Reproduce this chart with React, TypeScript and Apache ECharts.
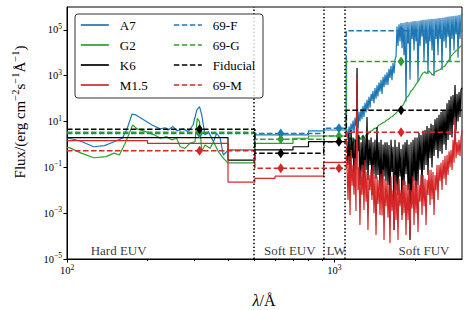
import React, { useEffect, useRef } from "react";
import * as echarts from "echarts";

// ---------- data (wavelengths in Å, fluxes as log10 of erg cm^-2 s^-1 Å^-1) ----------
const binEdges = [100, 200, 300, 400, 504, 600, 700, 800, 912, 1108];
const a7Bins = [null, null, null, -0.24, 0.42, 0.42, 0.42, 0.59, 0.63];
const g2Bins = [null, null, null, -0.8, 0.05, 0.05, 0.27, 0.37, 0.37];
const k6Bins = [0.3, 0.3, 0.3, -0.68, -0.24, -0.24, -0.1, 0.12, 0.12];
const m15Bins = [0.17, 0.05, 0.05, -1.64, -1.48, -1.38, -1.38, -1.38, -0.78];

const a7EuvWave = [100, 102, 112, 126, 138, 150, 161, 168, 175, 181, 194, 208, 223, 233, 239, 249, 258, 272, 284, 296, 306, 313, 319, 328, 338, 353, 363, 374, 384, 396];
const a7EuvLogFlux = [0.27, 0.27, 0.15, -0.1, -0.05, 0.12, 0.27, 0.71, 1.32, 1.29, 1.07, 0.85, 0.68, 0.73, 0.63, 0.78, 0.59, 0.68, 0.56, 0.85, 1.51, 1.65, 1.29, 0.42, 0.56, 0.12, 0.49, 0.27, -0.46, -0.31];
const g2EuvWave = [100, 102, 113, 126, 140, 150, 157, 166, 176, 183, 197, 212, 223, 236, 246, 257, 265, 276, 288, 301, 307, 313, 319, 328, 343, 353, 368, 384, 396];
const g2EuvLogFlux = [-0.14, -0.14, -0.38, -0.58, -0.53, -0.38, -0.46, 0.12, 0.85, 0.68, 0.56, 0.42, 0.27, 0.34, 0.2, 0.27, -0.1, -0.17, 0.05, 0.12, 1.14, 1.0, -0.31, -0.02, -0.17, 0.12, -0.31, -0.6, -0.75];

const fuvWave = [
  1114, 1124, 1134, 1144, 1154, 1164, 1174, 1184, 1194, 1204,
  1215, 1225, 1236, 1246, 1258, 1268, 1279, 1290, 1301, 1313,
  1324, 1335, 1347, 1359, 1371, 1382, 1394, 1406, 1418, 1431,
  1443, 1455, 1468, 1481, 1494, 1507, 1520, 1533, 1546, 1559,
  1573, 1586, 1600, 1614, 1628, 1642, 1656, 1671, 1685, 1700,
  1714, 1729, 1744, 1759, 1775, 1790, 1805, 1821, 1837, 1852,
  1868, 1885, 1901, 1917, 1934, 1951, 1968, 1985, 2001, 2019,
  2037, 2054, 2072, 2090, 2108, 2126, 2145, 2163, 2182, 2201,
  2220, 2239, 2258, 2278, 2298, 2317, 2337, 2358, 2378, 2399,
  2419, 2440, 2461, 2483, 2504, 2526, 2547, 2570, 2592, 2614,
  2637, 2660, 2683, 2706, 2729, 2753, 2777, 2801, 2825, 2849,
  2874, 2899, 2924, 2949, 2975, 3000,
];
const a7FuvLogFlux = [
  0.65, 0.2, 0.78, 0.45, 0.91, 0.6, 1.04, 0.5, 1.17, 0.8,
  1.3, 0.7, 1.43, 1.0, 1.56, 1.1, 1.69, 1.2, 1.82, 1.4,
  1.95, 1.5, 2.08, 1.6, 2.2, 1.9, 2.33, 1.8, 2.46, 2.0,
  2.58, 2.1, 2.7, 2.3, 2.82, 2.2, 2.94, 2.5, 3.05, 2.6,
  3.15, 2.6, 3.3, 2.9, 3.42, 2.8, 3.55, 3.1, 3.7, 3.85,
  5.15, 4.3, 5.25, 4.5, 5.3, 4.2, 5.3, 3.9, 5.32, 1.86,
  5.35, 4.4, 5.33, 2.82, 5.36, 4.6, 5.38, 4.1, 5.39, 4.5,
  5.38, 2.73, 5.4, 4.3, 5.42, 4.7, 5.44, 3.6, 5.44, 4.4,
  5.45, 3.08, 5.46, 4.5, 5.48, 4.1, 5.48, 2.99, 5.49, 4.6,
  5.5, 3.9, 5.52, 4.6, 5.52, 3.25, 5.53, 4.5, 5.55, 4.2,
  5.57, 4.7, 5.58, 3.6, 5.6, 4.6, 5.61, 4.1, 5.62, 4.8,
  5.63, 3.78, 5.65, 4.6, 5.66, 5.66,
];
const g2FuvLogFlux = [
  0.33, 0.28, 0.15, 0.3, 0.24, 0.1, -0.07, 0.25, 0.2, 0.12,
  -0.24, 0.15, 0.28, 0.3, 0.2, 0.35, 0.37, 0.3, 0.33, 0.42,
  0.46, 0.44, 0.5, 0.56, 0.59, 0.6, 0.63, 0.69, 0.72, 0.68,
  0.72, 0.8, 0.85, 0.86, 0.89, 0.93, 0.94, 0.97, 0.98, 1.04,
  1.07, 1.08, 1.11, 1.16, 1.2, 1.21, 1.24, 1.3, 1.33, 1.37,
  1.42, 1.47, 1.51, 1.54, 1.59, 1.66, 1.72, 1.8, 1.9, 1.98,
  2.07, 2.1, 2.16, 2.26, 2.34, 2.37, 2.42, 2.5, 2.55, 2.63,
  2.69, 2.76, 2.82, 2.9, 2.99, 3.06, 3.12, 3.14, 3.17, 3.1,
  3.12, 3.18, 3.21, 3.15, 3.12, 3.05, 3.03, 3.1, 3.17, 3.19,
  3.21, 3.23, 3.25, 3.27, 3.3, 3.35, 3.38, 3.4, 3.42, 3.5,
  3.56, 3.62, 3.69, 3.78, 3.86, 3.9, 3.95, 4.0, 4.04, 4.09,
  4.13, 4.17, 4.21, 4.26, 4.3, 4.35,
];
const k6FuvLogFlux = [
  0.15, -0.9, 0.5, -1.46, 0.63, -0.6, 0.3, -1.8, 0.2, -1.1,
  3.34, -0.3, 0.4, -1.77, 0.1, -1.2, 0.41, -2.2, 0.3, -1.11,
  1.2, -1.55, 0.2, -0.9, 0.3, -2.21, 0.1, -1.3, 0.2, -1.5,
  0.76, -1.33, 0.1, -2.0, 0.2, -2.42, 0.0, -1.4, 0.1, -1.6,
  0.1, -1.77, -0.02, -2.86, 0.2, -1.2, -0.1, -3.73, 0.2, -2.0,
  -0.1, -2.21, 0.1, -1.4, -0.2, -3.08, 0.0, -1.8, 0.1, -1.3,
  0.2, -1.99, 0.0, -4.17, 0.1, -2.6, 0.2, -1.6, 0.3, -2.42,
  0.3, -1.77, 0.5, -1.1, 0.41, -2.0, 0.6, -1.11, 0.63, -0.9,
  0.8, -1.33, 0.72, -0.6, 0.9, -1.0, 0.85, -0.5, 1.1, -0.24,
  1.16, -0.6, 1.3, -0.3, 1.42, -0.4, 1.5, 0.0, 1.51, -0.24,
  1.8, 0.2, 1.94, 0.41, 2.1, 0.3, 2.16, 0.85, 2.6, 0.6,
  2.2, 1.0, 2.29, 1.2, 2.4, 2.47,
];
const m15FuvLogFlux = [
  -0.76, -2.42, -0.5, -3.08, -0.24, -1.8, -0.9, -2.2, -0.6, -2.9,
  2.95, -1.99, -1.0, -3.52, -1.11, -2.2, -0.9, -2.86, -0.68, -2.5,
  -1.2, -3.73, -1.33, -2.0, -1.1, -2.42, -0.9, -3.0, -1.3, -3.95,
  -1.4, -2.6, -1.55, -3.08, -1.3, -3.1, -1.11, -4.17, -1.5, -2.7,
  -1.6, -3.2, -1.77, -4.3, -1.4, -2.9, -1.99, -3.73, -1.33, -3.3,
  -1.7, -4.17, -1.5, -2.7, -1.99, -3.3, -1.55, -3.0, -1.6, -3.95,
  -1.77, -3.3, -1.7, -4.08, -1.99, -2.8, -1.4, -3.52, -1.55, -3.0,
  -1.6, -3.82, -1.77, -2.5, -1.3, -3.08, -1.33, -2.7, -1.5, -3.52,
  -1.55, -2.2, -1.1, -2.64, -1.11, -2.4, -1.2, -3.08, -1.33, -2.0,
  -0.9, -2.42, -0.9, -1.6, -0.8, -1.99, -0.68, -1.5, -0.5, -1.77,
  -0.46, -1.33, -0.3, -1.0, -0.24, -1.11, 0.2, -0.8, 1.2, -0.6,
  0.1, -0.46, 0.2, -0.5, 0.3, 0.63,
];

const bandEdges = [100, 504, 912, 1108, 3000];
const bandCenters = [313, 630, 1040, 1775];
const f69Bands = [0.48, 0.48, 0.71, 4.96];
const g69Bands = [0.53, 0.23, 0.37, 3.62];
const fiducialBands = [0.66, -0.38, 0.12, 1.49];
const m69Bands = [-0.28, -1.04, -1.04, 0.53];

const boundaryWave = [504, 912, 1108];
const regionNames = ["Hard EUV", "Soft EUV", "LW", "Soft FUV"];
const regionLabelWave = [156, 681, 1014, 2163];
const regionLabelLogFlux = -4.62;

const xMajorTicks = [100, 1000];
const xMinorTicks = [200, 300, 400, 500, 600, 700, 800, 900, 2000];
const yTickExponents = [-5, -3, -1, 1, 3, 5];
const xRange = [100, 3000];
const yExpRange = [-5, 6];

// ---------- helpers ----------
const L = (v: number) => Math.log10(v);
const FONT = '"Liberation Serif", "DejaVu Serif", serif';
const C = { blue: "#1f77b4", green: "#2ca02c", black: "#000000", red: "#d62728" };

function solid(wave: number[] | null, flux: number[] | null, bins: (number | null)[], fuv: number[]) {
  const pts: number[][] = [];
  if (wave && flux) wave.forEach((w, i) => pts.push([L(w), flux[i]]));
  bins.forEach((v, i) => {
    if (v == null) return;
    pts.push([L(binEdges[i]), v]);
    pts.push([L(binEdges[i + 1]), v]);
  });
  fuvWave.forEach((w, i) => pts.push([L(w), fuv[i]]));
  return pts;
}
function bands(vals: number[]) {
  const pts: number[][] = [];
  vals.forEach((v, i) => {
    pts.push([L(bandEdges[i]), v]);
    pts.push([L(bandEdges[i + 1]), v]);
  });
  return pts;
}
const supTxt = (v: number) => {
  const n = Math.round(v);
  return (n < 0 ? "\u2212" : "") + Math.abs(n);
};
const tickRich = {
  b: { fontSize: 10.5, fontFamily: FONT, color: "#000", lineHeight: 15 },
  s: { fontSize: 7.5, fontFamily: FONT, color: "#000", verticalAlign: "top", lineHeight: 7 },
};

export default function App() {
  const ref = useRef<HTMLDivElement>(null);
  useEffect(() => {
    if (!ref.current) return;
    const chart = echarts.init(ref.current, undefined, { renderer: "svg" });

    const lineS = (name: string, color: string, data: number[][], dashed: boolean, extra: any = {}) => ({
      type: "line",
      name,
      data,
      color,
      showSymbol: false,
      symbol: "none",
      silent: true,
      clip: true,
      lineStyle: { color, width: dashed ? 1.5 : 1.2, type: dashed ? [5.5, 2.5] : "solid" },
      itemStyle: { color },
      emphasis: { disabled: true },
      ...extra,
    });
    const diamonds = (color: string, vals: number[]) => ({
      markPoint: {
        symbol: "diamond",
        symbolSize: [7, 10],
        silent: true,
        label: { show: false },
        itemStyle: { color },
        data: bandCenters.map((c, i) => ({ coord: [L(c), vals[i]] })),
      },
    });

    const legendBase = {
      orient: "vertical",
      top: 18,
      padding: 0,
      itemWidth: 28,
      itemHeight: 14,
      itemGap: 6,
      selectedMode: false,
      z: 11,
      itemStyle: { opacity: 0 },
      lineStyle: { width: 1.7 },
      textStyle: { fontFamily: FONT, fontSize: 13, color: "#000", lineHeight: 14, padding: [0, 0, 0, 6] },
    };

    chart.setOption({
      animation: false,
      backgroundColor: "#fff",
      grid: { left: 67, right: 9, top: 7, bottom: 51, show: true, borderColor: "#000", borderWidth: 1, outerBoundsMode: "none" },
      xAxis: [
        {
          type: "value",
          min: L(xRange[0]),
          max: L(xRange[1]),
          axisLine: { show: true, onZero: false, lineStyle: { color: "#000", width: 1 } },
          axisTick: { show: true, inside: false, length: 3.5, lineStyle: { color: "#000" }, customValues: xMajorTicks.map(L) },
          axisLabel: {
            customValues: xMajorTicks.map(L),
            margin: 4,
            formatter: (v: number) => `{b|10}{s|${supTxt(v)}}`,
            rich: tickRich,
          },
          splitLine: { show: false },
        },
        {
          type: "value",
          min: L(xRange[0]),
          max: L(xRange[1]),
          position: "bottom",
          axisLine: { show: false, onZero: false },
          axisTick: { show: true, inside: false, length: 2, lineStyle: { color: "#000" }, customValues: xMinorTicks.map(L) },
          axisLabel: { show: false },
          splitLine: { show: false },
        },
      ],
      yAxis: {
        type: "value",
        min: yExpRange[0],
        max: yExpRange[1],
        axisLine: { show: true, onZero: false, lineStyle: { color: "#000", width: 1 } },
        axisTick: { show: true, inside: false, length: 3.5, lineStyle: { color: "#000" }, customValues: yTickExponents },
        axisLabel: {
          customValues: yTickExponents,
          margin: 5,
          formatter: (v: number) => `{b|10}{s|${supTxt(v)}}`,
          rich: tickRich,
        },
        splitLine: { show: false },
      },
      legend: [
        { ...legendBase, left: 80, data: ["A7", "G2", "K6", "M1.5"] },
        { ...legendBase, left: 173, data: ["69-F", "69-G", "Fiducial", "69-M"] },
      ],
      graphic: [
        {
          type: "rect",
          z: 10,
          silent: true,
          shape: { x: 75, y: 14, width: 188, height: 84, r: 3 },
          style: { fill: "rgba(255,255,255,0.8)", stroke: "#333", lineWidth: 1 },
        },
        {
          type: "text",
          x: 264,
          y: 300,
          silent: true,
          style: {
            text: "{i|\u03bb}{n|/\u00c5}",
            align: "center",
            verticalAlign: "middle",
            textAlign: "center",
            textVerticalAlign: "middle",
            rich: {
              i: { fontFamily: FONT, fontSize: 16, fontStyle: "italic", fill: "#000" },
              n: { fontFamily: FONT, fontSize: 16, fill: "#000" },
            },
          },
        },
        {
          type: "text",
          x: 20,
          y: 112,
          rotation: Math.PI / 2,
          silent: true,
          style: {
            text: "{n|Flux/(erg cm}{s|\u22122}{n|s}{s|\u22121}{n|\u00c5}{s|\u22121}{n|)}",
            align: "center",
            verticalAlign: "middle",
            textAlign: "center",
            textVerticalAlign: "middle",
            rich: {
              n: { fontFamily: FONT, fontSize: 15, fill: "#000", lineHeight: 20 },
              s: { fontFamily: FONT, fontSize: 10.5, fill: "#000", verticalAlign: "top", lineHeight: 10 },
            },
          },
        },
      ],
      series: [
        lineS("A7", C.blue, solid(a7EuvWave, a7EuvLogFlux, a7Bins, a7FuvLogFlux), false),
        lineS("G2", C.green, solid(g2EuvWave, g2EuvLogFlux, g2Bins, g2FuvLogFlux), false),
        lineS("K6", C.black, solid(null, null, k6Bins, k6FuvLogFlux), false, {
          markLine: {
            silent: true,
            symbol: ["none", "none"],
            label: { show: false },
            lineStyle: { color: "#000", type: [1.5, 2.2], width: 1.5 },
            data: boundaryWave.map((b) => ({ xAxis: L(b) })),
          },
        }),
        lineS("M1.5", C.red, solid(null, null, m15Bins, m15FuvLogFlux), false),
        lineS("69-F", C.blue, bands(f69Bands), true, diamonds(C.blue, f69Bands)),
        lineS("69-G", C.green, bands(g69Bands), true, diamonds(C.green, g69Bands)),
        lineS("Fiducial", C.black, bands(fiducialBands), true, diamonds(C.black, fiducialBands)),
        lineS("69-M", C.red, bands(m69Bands), true, diamonds(C.red, m69Bands)),
        {
          type: "scatter",
          name: "regions",
          silent: true,
          symbolSize: 1,
          itemStyle: { color: "rgba(0,0,0,0)" },
          z: 6,
          label: { show: true, position: "inside", formatter: "{b}", color: "#000", fontFamily: FONT, fontSize: 13 },
          data: regionNames.map((n, i) => ({ name: n, value: [L(regionLabelWave[i]), regionLabelLogFlux] })),
        },
      ],
    });
    return () => chart.dispose();
  }, []);
  return <div ref={ref} style={{ position: "fixed", left: 0, top: 0, width: 471, height: 310 }} />;
}
